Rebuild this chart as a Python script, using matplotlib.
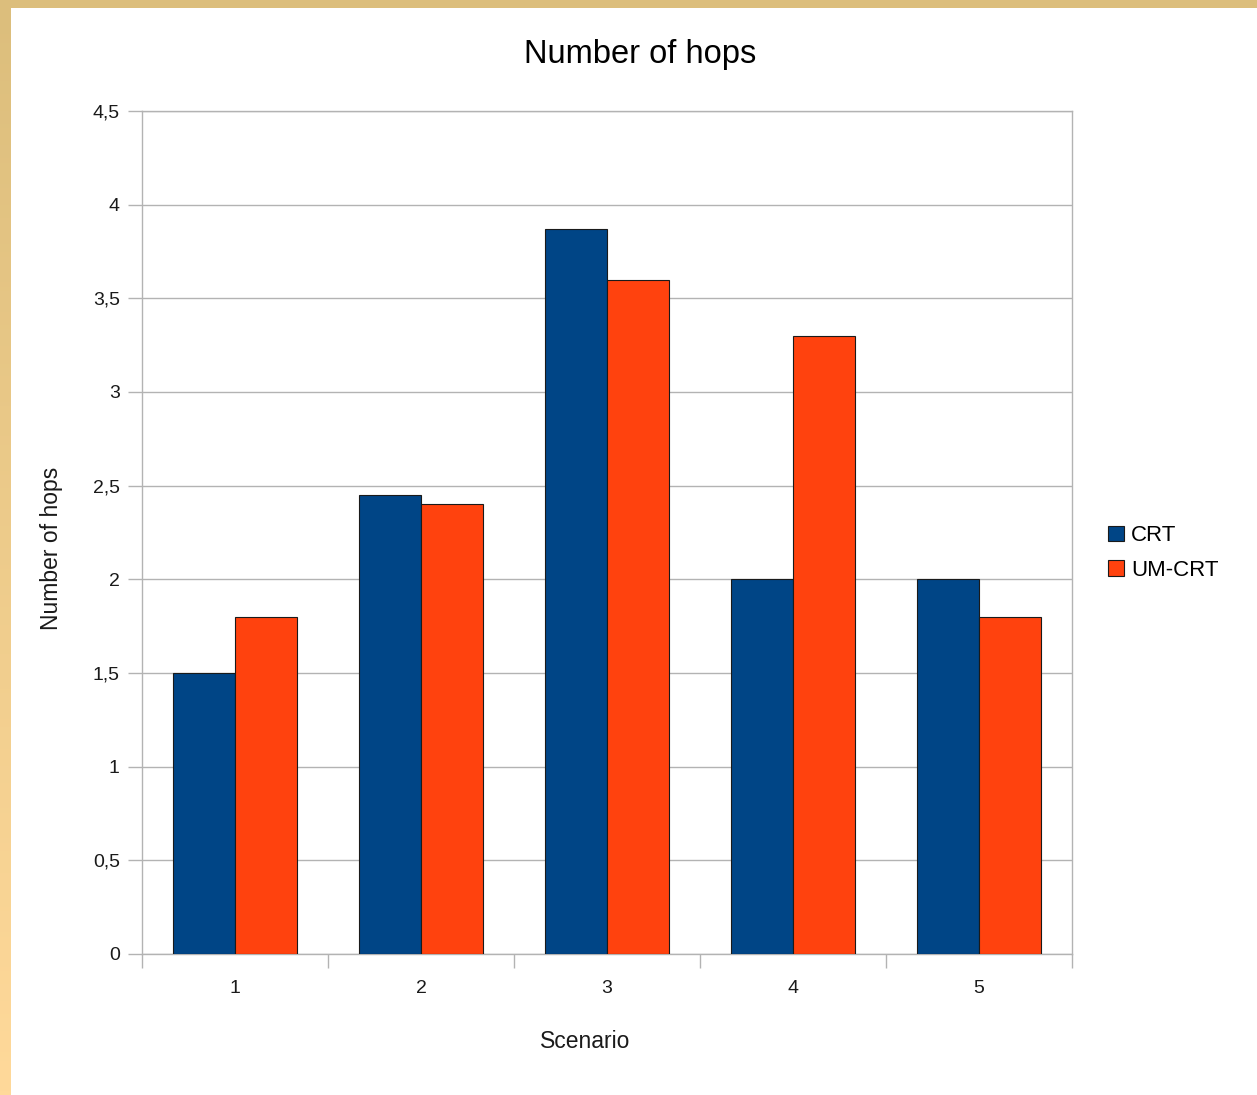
import matplotlib.pyplot as plt
import numpy as np

plt.rcParams['font.family'] = ['Liberation Sans', 'DejaVu Sans']

# chart data
scenarios = ['1', '2', '3', '4', '5']
crt = [1.5, 2.45, 3.87, 2.0, 2.0]
um_crt = [1.8, 2.4, 3.6, 3.3, 1.8]
y_ticks = [0, 0.5, 1, 1.5, 2, 2.5, 3, 3.5, 4, 4.5]

W, H = 1257, 1095
fig = plt.figure(figsize=(W / 100, H / 100), dpi=100)

# golden frame: top band and left band with a vertical gradient
top_ax = fig.add_axes([0, 1 - 8 / H, 1, 8 / H])
top_ax.set_axis_off()
top_ax.add_patch(plt.Rectangle((0, 0), 1, 1, color='#dcbe7c', transform=top_ax.transAxes))

left_ax = fig.add_axes([0, 0, 11 / W, 1])
grad = np.linspace(0, 1, 256).reshape(-1, 1)
c_top = np.array([0xdc, 0xbe, 0x7c]) / 255
c_bot = np.array([0xff, 0xd9, 0x9a]) / 255
img = c_bot[None, None, :] * (1 - grad[..., None]) + c_top[None, None, :] * grad[..., None]
left_ax.imshow(img, aspect='auto', origin='lower', extent=(0, 1, 0, 1))
left_ax.set_axis_off()

# plot area
ax = fig.add_axes([142 / W, 141 / H, 930 / W, 843 / H])
x = np.arange(len(scenarios))
w = 1 / 3
ax.bar(x - w / 2, crt, w, color='#004586', edgecolor='#1a1a1a', linewidth=0.8, label='CRT', zorder=3)
ax.bar(x + w / 2, um_crt, w, color='#ff420e', edgecolor='#1a1a1a', linewidth=0.8, label='UM-CRT', zorder=3)

ax.set_xlim(-0.5, len(scenarios) - 0.5)
ax.set_ylim(0, 4.5)
ax.set_yticks(y_ticks)
ax.set_yticklabels([f'{v:g}'.replace('.', ',') for v in y_ticks])
ax.yaxis.grid(True, color='#b3b3b3', linewidth=1, zorder=0)

# category ticks sit at the boundaries, labels in the middle
ax.set_xticks(np.arange(len(scenarios) + 1) - 0.5)
ax.set_xticklabels([])
ax.set_xticks(x, minor=True)
ax.set_xticklabels(scenarios, minor=True)
ax.tick_params(axis='x', which='minor', length=0, pad=19)
ax.tick_params(axis='x', which='major', length=10, color='#b3b3b3', width=1)
ax.tick_params(axis='y', length=10, color='#b3b3b3', width=1, pad=6)
ax.tick_params(which='both', labelsize=14, labelcolor='#1a1a1a')

for s in ax.spines.values():
    s.set_color('#b3b3b3')
    s.set_linewidth(1)

fig.text(640 / W, 1 - 55 / H, 'Number of hops', ha='center', va='center', fontsize=23.5, color='#000000')
fig.text(585 / W, 1 - 1041 / H, 'Scenario', ha='center', va='center', fontsize=16.5, color='#1a1a1a')
fig.text(52 / W, 1 - 548 / H, 'Number of hops', ha='center', va='center', rotation=90, fontsize=16.5,
         color='#1a1a1a')

ax.legend(loc='center left', bbox_to_anchor=(1108 / W, 1 - 553 / H), bbox_transform=fig.transFigure,
          frameon=False, fontsize=16, handlelength=0.7, handleheight=0.7, handletextpad=0.35,
          labelspacing=0.6, borderaxespad=0, borderpad=0)

fig.savefig('out.png', dpi=100, facecolor='white')
